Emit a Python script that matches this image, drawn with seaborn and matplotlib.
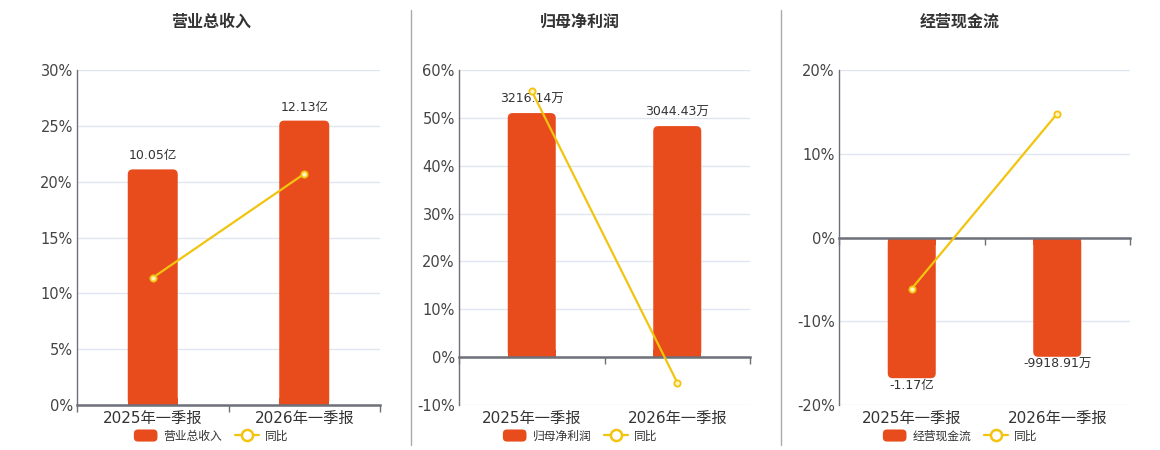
import matplotlib
matplotlib.use("Agg")
import matplotlib.pyplot as plt
import seaborn as sns
from matplotlib.patches import FancyBboxPatch, Rectangle, Patch
from matplotlib.lines import Line2D
from matplotlib.legend_handler import HandlerPatch
from matplotlib.transforms import IdentityTransform

# data (bar values in 万)
categories = ["2025年一季报", "2026年一季报"]

revenue = [100500, 121300]
revenue_labels = ["10.05亿", "12.13亿"]
revenue_yoy = [11.4, 20.7]

profit = [3216.14, 3044.43]
profit_labels = ["3216.14万", "3044.43万"]
profit_yoy = [55.6, -5.3]

cashflow = [-11700, -9918.91]
cashflow_labels = ["-1.17亿", "-9918.91万"]
cashflow_yoy = [-6.1, 14.8]

titles = ["营业总收入", "归母净利润", "经营现金流"]

BAR = "#E84C1D"
LINE = "#F2C40F"
AXIS = "#6E7079"
GRID = "#E0E6F1"
TEXT = "#333333"

sns.set_style("white")
plt.rcParams["font.family"] = ["DejaVu Sans", "Noto Sans CJK SC"]

fig = plt.figure(figsize=(11.6, 4.5), dpi=100)
W, H = 1160, 450

panels = [
    dict(vals=revenue, labels=revenue_labels, yoy=revenue_yoy, title=titles[0],
         ylim=(0, 30), step=5, scale=4763, left=77, right=380, center=211),
    dict(vals=profit, labels=profit_labels, yoy=profit_yoy, title=titles[1],
         ylim=(-10, 60), step=10, scale=63.06, left=459, right=750, center=580),
    dict(vals=cashflow, labels=cashflow_labels, yoy=cashflow_yoy, title=titles[2],
         ylim=(-20, 20), step=10, scale=696.4, left=839, right=1130, center=960),
]

top_px, bottom_px = 70, 405


def rounded_handle(legend, orig_handle, xdescent, ydescent, width, height, fontsize):
    return FancyBboxPatch((-xdescent, -ydescent), width, height,
                          boxstyle="round,pad=0,rounding_size=3")


for p in panels:
    rect = [p["left"] / W, 1 - bottom_px / H, (p["right"] - p["left"]) / W,
            (bottom_px - top_px) / H]
    ax = fig.add_axes(rect)
    axb = ax.twinx()
    axb.set_zorder(0)
    ax.set_zorder(1)
    ax.patch.set_visible(False)
    axb.patch.set_visible(False)

    lo, hi = p["ylim"]
    ticks = list(range(lo, hi + 1, p["step"]))

    # bars on hidden value axis
    sns.barplot(x=categories, y=p["vals"], ax=axb, color=BAR, width=0.33,
                saturation=1, errorbar=None)
    axb.set_ylim(lo * p["scale"], hi * p["scale"])
    axb.set_yticks([t * p["scale"] for t in ticks])
    axb.grid(axis="y", color=GRID, lw=1)
    axb.tick_params(axis="y", left=False, right=False, labelleft=False, labelright=False)
    for s in axb.spines.values():
        s.set_visible(False)
    axb.set_ylabel("")

    # yoy line on percent axis
    sns.pointplot(x=categories, y=p["yoy"], ax=ax, color=LINE, errorbar=None,
                  markers="o", linewidth=1.6, markersize=4.5,
                  markerfacecolor="#FFF4C0", markeredgecolor=LINE, markeredgewidth=1.3)
    ax.set_xlim(-0.5, len(categories) - 0.5)
    axb.set_xlim(-0.5, len(categories) - 0.5)
    ax.set_ylim(lo, hi)
    ax.set_yticks(ticks, [f"{t}%" for t in ticks])
    ax.set_xticks(range(len(categories)), categories)
    ax.tick_params(axis="y", length=0, pad=3, labelsize=10.5, labelcolor="#444444")
    ax.tick_params(axis="x", length=0, pad=4, labelsize=11, labelcolor=TEXT)
    ax.set_ylabel("")
    ax.set_xlabel("")
    for side in ["top", "right", "bottom"]:
        ax.spines[side].set_visible(False)
    ax.spines["left"].set_color(AXIS)
    ax.spines["left"].set_linewidth(1)
    ax.grid(False)

    # zero axis line with boundary ticks
    zero_frac = (0 - lo) / (hi - lo)
    sec = ax.secondary_xaxis(zero_frac)
    sec.set_alignment("bottom")
    sec.set_xticks([-0.5 + i for i in range(len(categories) + 1)])
    sec.tick_params(axis="x", direction="out", length=5, width=1, color=AXIS,
                    labelbottom=False, labeltop=False)
    for s in sec.spines.values():
        s.set_color(AXIS)
        s.set_linewidth(1.8)

    # rounded bars + value labels
    r = 5
    for bar, lab in zip(list(axb.patches), p["labels"]):
        x0, y0 = bar.get_x(), bar.get_y()
        w, h = bar.get_width(), bar.get_height()
        (dx0, dy0) = axb.transData.transform((x0, min(y0, y0 + h)))
        (dx1, dy1) = axb.transData.transform((x0 + w, max(y0, y0 + h)))
        bar.set_visible(False)
        rb = FancyBboxPatch((dx0, dy0), dx1 - dx0, dy1 - dy0,
                            boxstyle=f"round,pad=0,rounding_size={r}",
                            transform=IdentityTransform(), fc=BAR, ec="none", zorder=2)
        axb.add_patch(rb)
        ybase = dy0 if h >= 0 else dy1 - r * 1.5
        sq = Rectangle((dx0, ybase), dx1 - dx0, r * 1.5,
                       transform=IdentityTransform(), fc=BAR, ec="none", zorder=2)
        axb.add_patch(sq)
        yv = y0 + h
        axb.annotate(lab, (x0 + w / 2, yv), xytext=(0, 5 if h >= 0 else -0.5),
                     textcoords="offset points", ha="center",
                     va="bottom" if h >= 0 else "top", fontsize=9, color=TEXT,
                     zorder=5)

    fig.text(p["center"] / W, 1 - 22 / H, p["title"], ha="center", va="center",
             fontsize=11.5, fontweight="bold", color=TEXT)

    handles = [Patch(fc=BAR, ec="none"),
               Line2D([], [], color=LINE, lw=1.6, marker="o", markersize=8,
                      markerfacecolor="white", markeredgecolor=LINE, markeredgewidth=1.8)]
    fig.legend(handles, [p["title"], "同比"], loc="center",
               bbox_to_anchor=(p["center"] / W, 1 - 436 / H), ncol=2, frameon=False,
               fontsize=8.5, handlelength=2.0, handleheight=1.2, handletextpad=0.5,
               columnspacing=1.1, labelcolor=TEXT,
               handler_map={Patch: HandlerPatch(patch_func=rounded_handle)})

# panel dividers
for xd in [410.5, 780.5]:
    fig.add_artist(Line2D([xd / W, xd / W], [1 - 445 / H, 1 - 10 / H],
                          transform=fig.transFigure, color="#AAAAAA", lw=1))

fig.savefig("out.png", dpi=100)
